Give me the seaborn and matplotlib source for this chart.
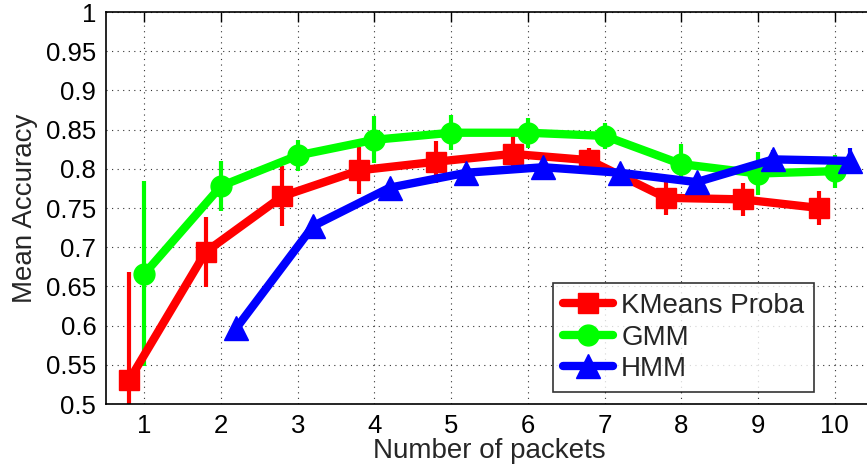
import numpy as np
import pandas as pd
import matplotlib
matplotlib.use("Agg")
import matplotlib.pyplot as plt
import seaborn as sns

packets = [1, 2, 3, 4, 5, 6, 7, 8, 9, 10]
kmeans_mean = [0.530, 0.694, 0.765, 0.798, 0.809, 0.819, 0.811, 0.763, 0.761, 0.750]
kmeans_err = [0.138, 0.045, 0.038, 0.030, 0.027, 0.024, 0.016, 0.022, 0.021, 0.022]
gmm_mean = [0.666, 0.778, 0.817, 0.837, 0.846, 0.846, 0.842, 0.806, 0.794, 0.797]
gmm_err = [0.118, 0.032, 0.020, 0.030, 0.022, 0.019, 0.017, 0.025, 0.027, 0.021]
hmm_packets = [2, 3, 4, 5, 6, 7, 8, 9, 10]
hmm_mean = [0.597, 0.727, 0.776, 0.795, 0.802, 0.795, 0.783, 0.812, 0.810]
hmm_err = [0.005, 0.005, 0.005, 0.005, 0.005, 0.005, 0.005, 0.012, 0.017]

series = [
    ("KMeans Proba", packets, kmeans_mean, kmeans_err, -0.2, "#ff0000", "s", 15),
    ("GMM", packets, gmm_mean, gmm_err, 0.0, "#00ff00", "o", 15),
    ("HMM", hmm_packets, hmm_mean, hmm_err, 0.2, "#0000ff", "^", 17),
]

sns.set_theme(style="white")
plt.rcParams['font.family'] = ['Liberation Sans', 'DejaVu Sans']

fig = plt.figure(figsize=(8.67, 4.73), dpi=100)
ax = fig.add_axes([106 / 867, 69 / 473, 767 / 867, 392 / 473])

for name, xs, ms, es, off, col, mk, msz in series:
    df = pd.DataFrame({"x": np.array(xs) + off, "y": ms})
    ax.errorbar(df["x"], df["y"], yerr=es, fmt="none", ecolor=col,
                elinewidth=3, capsize=0, zorder=2)
    sns.lineplot(data=df, x="x", y="y", ax=ax, color=col, linewidth=6,
                 marker=mk, markersize=msz, markeredgecolor=col,
                 markeredgewidth=1, label=name, zorder=3)

ax.set_xlim(0.5, 10.5)
ax.set_ylim(0.5, 1.0)
ax.set_xticks(range(1, 11))
ax.set_yticks(np.arange(0.5, 1.0001, 0.05))
ax.set_yticklabels(["0.5", "0.55", "0.6", "0.65", "0.7", "0.75", "0.8",
                    "0.85", "0.9", "0.95", "1"])
ax.grid(True, color="#333333", linestyle=(0, (1, 4)), linewidth=0.8)
ax.tick_params(direction="in", length=7, width=1, labelsize=18.5,
               top=True, right=False, colors="black", pad=7)
for s in ax.spines.values():
    s.set_color("black")
    s.set_linewidth(1.2)
ax.set_xlabel("Number of packets", fontsize=20, labelpad=0)
ax.set_ylabel("Mean Accuracy", fontsize=20, labelpad=6)

leg = ax.legend(loc="lower left", bbox_to_anchor=(0.583, 0.031), fontsize=20,
                frameon=True, fancybox=False, handlelength=1.8,
                borderpad=0.35, labelspacing=0.2, handletextpad=0.3,
                borderaxespad=0)
leg.get_frame().set_edgecolor("black")
leg.get_frame().set_linewidth(1.2)

fig.savefig("out.png", dpi=100)
